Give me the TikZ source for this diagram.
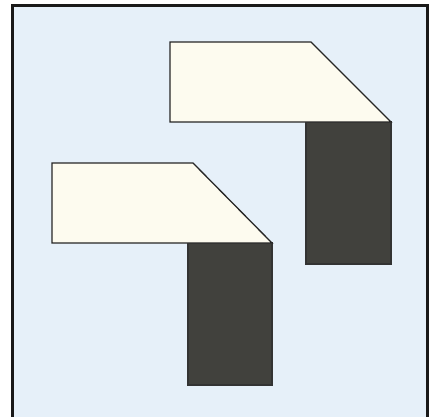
\documentclass[tikz,border=0pt]{standalone}
\definecolor{bgblue}{HTML}{E6F0F9}
\definecolor{cream}{HTML}{FDFBEF}
\definecolor{darkfill}{HTML}{41413D}
\begin{document}
\begin{tikzpicture}[x=1pt,y=-1pt,
  frameline/.style={line width=2.5pt,black!90},
  creamface/.style={fill=cream,draw=black!85,line width=1.3pt,line join=miter},
  darkface/.style={fill=darkfill,draw=black!80,line width=1.3pt}]
\useasboundingbox (0,0) rectangle (437,416);
\clip (0,0) rectangle (437,416);
\fill[white] (0,0) rectangle (437,416);
\fill[bgblue] (12.5,5.5) rectangle (427.5,420);
\draw[frameline] (12.5,420) -- (12.5,5.5) -- (427.5,5.5) -- (427.5,420);
% upper shape
\coordinate (uA) at (170,42);
\coordinate (uB) at (311,42);
\coordinate (uC) at (391,122);
\coordinate (uD) at (170,122);
\coordinate (uE) at (306,122);
\coordinate (uF) at (391,264);
\draw[darkface] (uE) rectangle (uF);
\draw[creamface] (uA) -- (uB) -- (uC) -- (uD) -- cycle;
% lower shape
\coordinate (lA) at (52,163);
\coordinate (lB) at (193,163);
\coordinate (lC) at (272,243);
\coordinate (lD) at (52,243);
\coordinate (lE) at (188,243);
\coordinate (lF) at (272,385);
\draw[darkface] (lE) rectangle (lF);
\draw[creamface] (lA) -- (lB) -- (lC) -- (lD) -- cycle;
\end{tikzpicture}
\end{document}
